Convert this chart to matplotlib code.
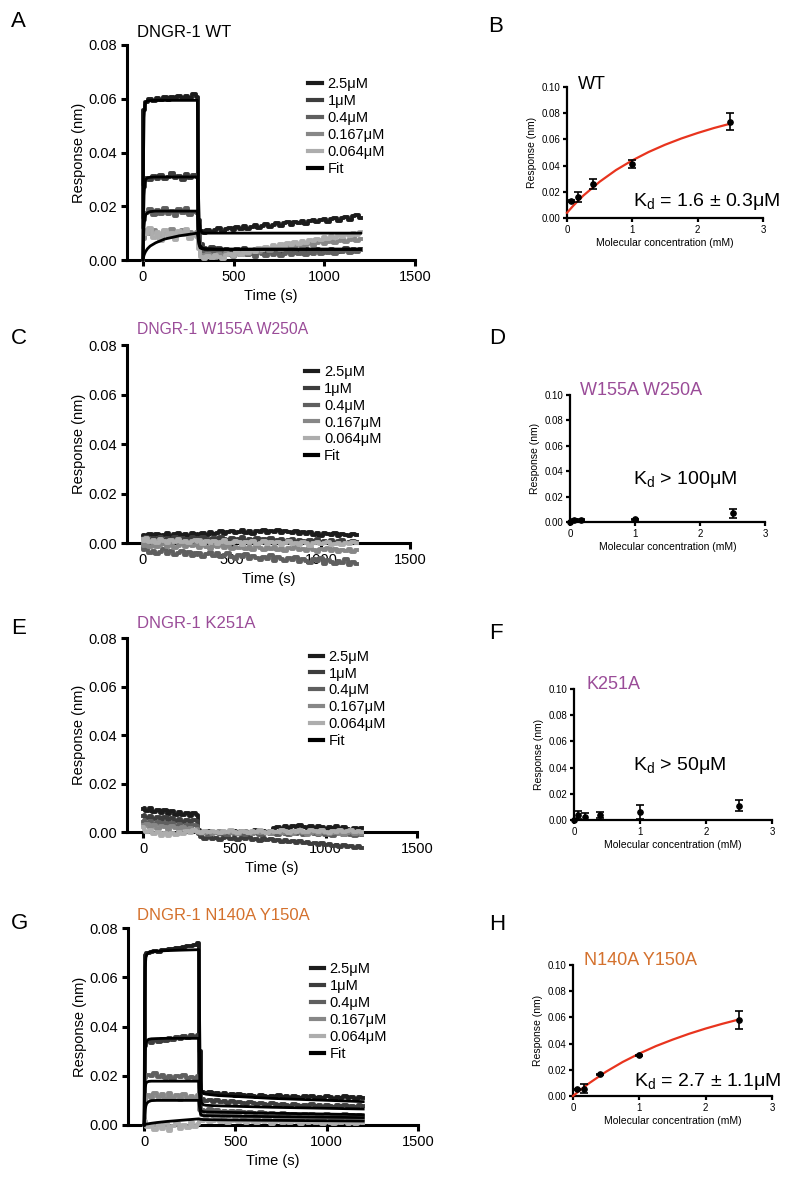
import numpy as np
import matplotlib
matplotlib.use("Agg")
import matplotlib.pyplot as plt
from matplotlib.lines import Line2D

plt.rcParams['font.family'] = ['Liberation Sans', 'DejaVu Sans']
plt.rcParams['mathtext.default'] = 'regular'

# ---------------- data ----------------
# sensorgram time grid (s)
time_s = [0, 5] + list(range(20, 301, 20)) + [305] + list(range(320, 1201, 20))
conc_labels = ['2.5\u03bcM', '1\u03bcM', '0.4\u03bcM', '0.167\u03bcM', '0.064\u03bcM', 'Fit']
trace_colors = ['#1c1c1c', '#3d3d3d', '#5f5f5f', '#878787', '#adadad']

# responses in units of 1e-4 nm
A_25 = [0, 560, 588, 598, 590, 603, 595, 605, 597, 607, 600, 610, 602, 612, 604, 616, 606,
        125, 108, 100, 112, 104, 110, 118, 106, 114, 120, 110, 122, 116, 126, 114, 124, 130, 120, 128, 134,
        124, 132, 138, 128, 136, 140, 130, 142, 136, 146, 134, 144, 150, 140, 148, 154, 142, 152, 158, 146,
        156, 160, 150, 162, 166, 156]
A_1 = [0, 270, 305, 298, 312, 302, 318, 300, 310, 322, 304, 314, 298, 320, 306, 316, 308,
       150, 60, 45, 38, 50, 34, 44, 30, 42, 36, 28, 40, 32, 46, 30, 38, 26, 42, 34, 28,
       40, 30, 36, 24, 38, 32, 44, 28, 36, 30, 42, 26, 34, 40, 30, 36, 28, 42, 34, 30,
       38, 44, 32, 40, 36, 42]
A_04 = [0, 150, 175, 190, 168, 185, 172, 195, 170, 182, 165, 188, 174, 192, 168, 180, 176,
        90, 40, 30, 22, 34, 20, 28, 16, 30, 24, 14, 26, 20, 32, 18, 24, 12, 28, 22, 16,
        30, 20, 26, 14, 24, 30, 18, 26, 22, 34, 20, 28, 24, 32, 22, 30, 26, 36, 24, 32,
        28, 38, 26, 34, 30, 36]
A_0167 = [0, 80, 105, 95, 112, 100, 90, 108, 96, 115, 102, 92, 110, 98, 106, 94, 104,
          60, 20, 12, 24, 16, 8, 22, 14, 26, 18, 10, 28, 20, 32, 22, 30, 40, 28, 36, 44,
          32, 42, 50, 38, 46, 54, 42, 52, 60, 48, 56, 64, 52, 62, 70, 58, 66, 74, 62, 72,
          80, 68, 76, 84, 72, 80]
A_0064 = [0, 110, 95, 118, 82, 105, 70, 112, 88, 100, 76, 108, 92, 115, 80, 98, 86,
          40, 10, 4, 16, 8, 20, 12, 2, 18, 24, 14, 28, 20, 34, 26, 38, 30, 44, 36, 48,
          40, 54, 46, 58, 50, 62, 56, 68, 60, 72, 64, 76, 70, 80, 74, 86, 78, 90, 82, 94,
          86, 98, 90, 100, 94, 104]

C_25 = [28, 32, 26, 35, 30, 38, 28, 34, 40, 30, 36, 42, 32, 38, 30, 40, 34,
        36, 30, 42, 34, 44, 36, 40, 48, 38, 44, 50, 40, 46, 52, 42, 48, 38, 50, 44, 54,
        40, 48, 44, 52, 42, 50, 46, 40, 48, 36, 44, 38, 46, 34, 42, 30, 40, 36, 32, 42,
        28, 38, 34, 30, 36, 32]
C_1 = [20, 15, 24, 12, 22, 18, 26, 14, 20, 10, 24, 16, 22, 12, 18, 26, 14,
       20, 12, 24, 16, 10, 22, 14, 26, 18, 12, 20, 8, 16, 24, 10, 18, 14, 22, 6, 16,
       12, 20, 8, 14, 18, 4, 12, 16, 6, 14, 10, 2, 12, 8, 16, 4, 10, 6, 14, 2,
       8, 12, 0, 6, 10, 4]
C_04 = [-20, -30, -24, -40, -32, -46, -36, -26, -44, -34, -50, -40, -32, -48, -36, -52, -42,
        -48, -40, -56, -44, -36, -52, -42, -58, -48, -40, -56, -64, -50, -58, -46, -66, -54, -62, -70, -56,
        -64, -50, -72, -58, -66, -74, -60, -70, -56, -78, -64, -72, -80, -66, -74, -62, -84, -70, -78, -86,
        -72, -80, -66, -90, -76, -84]
C_0167 = [-5, -12, -2, -15, -8, -18, -10, -4, -16, -8, -20, -12, -6, -18, -10, -14, -8,
          -12, -20, -8, -16, -24, -12, -18, -10, -22, -14, -26, -16, -20, -12, -24, -18, -28, -14, -22, -30,
          -18, -24, -16, -28, -20, -32, -22, -26, -18, -30, -24, -34, -20, -28, -36, -24, -30, -22, -34, -26,
          -38, -28, -32, -24, -36, -30]
C_0064 = [15, 8, 20, 5, 14, 2, 18, 10, 0, 12, 6, 16, 4, 10, -2, 8, 14,
          4, 12, -4, 8, 0, 10, -6, 6, 14, 2, -2, 10, 4, -8, 6, 0, 8, -4, 2, 10,
          -6, 4, -2, 6, -10, 0, 8, -4, 2, -8, 4, -2, -12, 0, 6, -6, -2, 4, -10, -4,
          2, -8, 0, -6, 4, -2]

E_25 = [95, 100, 88, 98, 84, 92, 80, 90, 76, 86, 72, 84, 70, 80, 68, 78, 72,
        10, 0, -4, 4, -6, 2, -2, -8, 0, -4, 4, -2, 6, 0, -4, 2, 8, 0, 4, -2,
        6, 16, 20, 14, 24, 18, 26, 20, 28, 22, 16, 24, 18, 26, 20, 14, 22, 16, 24, 12,
        20, 14, 8, 18, 10, 16]
E_1 = [65, 70, 58, 66, 54, 62, 50, 60, 48, 56, 44, 54, 42, 50, 40, 48, 44,
       -10, -20, -28, -22, -30, -24, -32, -26, -20, -30, -24, -34, -26, -30, -22, -32, -28, -36, -26, -34,
       -30, -38, -32, -40, -34, -42, -36, -44, -38, -46, -40, -48, -44, -52, -46, -54, -48, -58, -52, -60,
       -54, -62, -56, -66, -58, -64]
E_04 = [40, 48, 36, 44, 30, 42, 28, 38, 24, 36, 22, 34, 20, 30, 18, 28, 24,
        0, -8, -4, -12, -6, -2, -10, -4, -14, -6, -10, -2, -8, -12, -4, -10, -6, -14, -8, -2,
        -10, -6, -12, -4, -8, -14, -6, -10, -2, -12, -8, -4, -10, -14, -6, -12, -8, -16, -10, -6,
        -14, -8, -12, -18, -10, -14]
E_0167 = [30, 22, 34, 18, 28, 14, 26, 20, 10, 24, 16, 8, 22, 12, 18, 6, 14,
          -4, 2, -6, 0, -8, -2, 4, -6, 0, -4, 2, -8, -2, 4, -4, -10, 0, -6, 2, -4,
          -8, 0, -2, -6, 2, -4, -10, -2, 0, -6, -12, -4, 0, -8, -2, -6, -10, -4, 0, -8,
          -12, -6, -2, -10, -4, -8]
E_0064 = [20, 10, -2, 8, -10, 0, -16, -6, -18, -4, -12, 2, -8, 6, -4, 10, 2,
          2, -4, 4, -2, 6, 0, -6, 4, -2, 8, 0, -4, 6, 2, -6, 4, -2, 8, 0, -4,
          6, 2, -2, 8, 4, -4, 6, 0, 10, 2, -2, 8, 4, 0, 10, 2, -4, 6, 0, 8,
          -2, 4, 10, 0, 6, 2]

G_25 = [0, 690, 700, 702, 706, 704, 710, 712, 715, 713, 718, 720, 722, 725, 728, 732, 738,
        300, 135, 128, 132, 125, 130, 122, 128, 120, 126, 118, 124, 120, 116, 122, 118, 114, 120, 116, 112,
        118, 114, 120, 112, 116, 110, 118, 114, 108, 116, 112, 118, 110, 114, 108, 116, 112, 106, 114, 110,
        116, 108, 112, 106, 114, 110]
G_1 = [0, 320, 340, 335, 345, 338, 350, 342, 355, 346, 358, 350, 362, 354, 366, 358, 364,
       150, 105, 98, 102, 95, 100, 92, 98, 90, 96, 88, 94, 90, 86, 92, 88, 84, 90, 86, 82,
       88, 84, 80, 86, 82, 78, 84, 80, 76, 82, 78, 84, 76, 80, 74, 82, 78, 72, 80, 76,
       82, 74, 78, 72, 80, 76]
G_04 = [0, 190, 205, 198, 210, 195, 202, 192, 200, 188, 198, 194, 202, 190, 196, 192, 198,
        90, 62, 58, 64, 56, 60, 54, 58, 52, 56, 50, 55, 52, 48, 54, 50, 46, 52, 48, 44,
        50, 46, 42, 48, 44, 40, 46, 42, 38, 44, 40, 46, 38, 42, 36, 44, 40, 34, 42, 38,
        44, 36, 40, 34, 42, 38]
G_0167 = [0, 95, 120, 108, 130, 112, 125, 105, 128, 110, 122, 100, 126, 108, 118, 104, 120,
          60, 42, 38, 44, 36, 40, 34, 42, 36, 40, 32, 38, 34, 30, 38, 34, 30, 36, 32, 28,
          36, 32, 28, 34, 30, 26, 34, 30, 26, 32, 28, 34, 26, 30, 24, 32, 28, 24, 30, 26,
          32, 24, 28, 22, 30, 26]
G_0064 = [0, 15, -10, 5, -20, 0, -15, 10, -25, -5, 8, -18, 2, -12, 12, -8, 5,
          20, 15, 22, 12, 18, 24, 14, 20, 10, 18, 22, 12, 16, 8, 20, 14, 10, 18, 12, 16,
          6, 14, 18, 10, 14, 8, 16, 12, 6, 14, 10, 16, 8, 12, 4, 14, 10, 6, 12, 8,
          14, 4, 10, 6, 12, 8]

# fitted curves (units of 1e-4 nm)
fit_time = [0, 3, 6, 10, 15, 25, 40, 70, 120, 200, 300, 303, 306, 310, 315, 325, 340, 400, 700, 1200]
fit_A_25 = [0, 380, 530, 575, 588, 592, 593, 594, 594, 594, 594, 420, 250, 150, 115, 102, 100, 100, 100, 100]
fit_A_1 = [0, 150, 240, 285, 300, 306, 308, 309, 309, 309, 309, 200, 120, 75, 55, 45, 42, 40, 40, 40]
fit_A_04 = [0, 80, 125, 155, 168, 176, 180, 182, 182, 182, 182, 120, 80, 55, 45, 42, 40, 40, 40, 40]
fit_A_slow = [0, 10, 18, 25, 32, 42, 52, 64, 78, 90, 100, 85, 70, 58, 50, 44, 41, 40, 40, 40]
fit_G_25 = [0, 500, 640, 680, 692, 700, 704, 706, 708, 710, 712, 500, 300, 180, 140, 128, 125, 120, 108, 95]
fit_G_1 = [0, 220, 300, 330, 342, 348, 350, 351, 352, 352, 352, 250, 160, 110, 90, 82, 80, 78, 72, 65]
fit_G_04 = [0, 110, 150, 168, 174, 177, 178, 178, 178, 178, 178, 130, 90, 65, 56, 54, 53, 52, 48, 42]
fit_G_0167 = [0, 40, 62, 78, 88, 95, 99, 100, 100, 100, 100, 75, 55, 44, 40, 38, 38, 37, 34, 30]
fit_G_0064 = [0, 1, 2, 3, 4, 5, 7, 10, 14, 19, 25, 24, 24, 23, 23, 22, 22, 21, 19, 16]

# steady-state binding (right panels)
B_x = [0.064, 0.167, 0.4, 1.0, 2.5]
B_y = [0.013, 0.016, 0.026, 0.041, 0.0735]
B_err = [0.0008, 0.004, 0.004, 0.003, 0.0065]
B_fit_x = [0, 0.1, 0.25, 0.5, 0.75, 1.0, 1.25, 1.5, 1.75, 2.0, 2.25, 2.5]
B_fit_y = [0.004, 0.0096, 0.0171, 0.0277, 0.0366, 0.0440, 0.0504, 0.0559, 0.0607, 0.0649, 0.0687, 0.0720]

D_x = [0.0, 0.064, 0.167, 1.0, 2.5]
D_y = [0.0, 0.0016, 0.0016, 0.0021, 0.0068]
D_err = [0.0, 0.0004, 0.0004, 0.0004, 0.0033]

F_x = [0.0, 0.064, 0.167, 0.4, 1.0, 2.5]
F_y = [0.0, 0.0038, 0.0025, 0.0038, 0.0059, 0.011]
F_err = [0.0, 0.0032, 0.0025, 0.002, 0.0052, 0.0045]

H_x = [0.064, 0.167, 0.4, 1.0, 2.5]
H_y = [0.0051, 0.0056, 0.0166, 0.031, 0.058]
H_err = [0.0005, 0.0032, 0.0005, 0.0005, 0.007]
H_fit_x = [0, 0.1, 0.25, 0.5, 0.75, 1.0, 1.25, 1.5, 1.75, 2.0, 2.25, 2.5]
H_fit_y = [0.0, 0.0042, 0.0100, 0.0186, 0.0260, 0.0324, 0.0381, 0.0430, 0.0475, 0.0515, 0.0551, 0.0584]

purple = '#9a4c98'
orange = '#d4712d'
red = '#e8341e'

# ---------------- figure ----------------
fig = plt.figure(figsize=(8, 11.81), dpi=100)
H = 1181.0


def rect(l, t, r, b):
    return [l / 800.0, 1 - b / H, (r - l) / 800.0, (b - t) / H]


def sensor_panel(box, traces, fits, title, tcolor, leg_y, title_y, title_size=12):
    ax = fig.add_axes(rect(*box))
    for vals, col in zip(traces, trace_colors):
        ax.plot(time_s, np.array(vals) * 1e-4, color=col, lw=2.8, drawstyle='steps-mid',
                clip_on=False, zorder=3)
    for f in fits:
        ax.plot(fit_time, np.array(f) * 1e-4, color='black', lw=2.0, clip_on=False, zorder=4)
    ax.set_xlim(-88, 1500)
    ax.set_ylim(0, 0.08)
    ax.set_xticks([0, 500, 1000, 1500])
    ax.set_yticks([0, 0.02, 0.04, 0.06, 0.08])
    ax.set_yticklabels(['0.00', '0.02', '0.04', '0.06', '0.08'])
    for s in ['top', 'right']:
        ax.spines[s].set_visible(False)
    for s in ['left', 'bottom']:
        ax.spines[s].set_linewidth(2.2)
    ax.tick_params(width=2.2, length=4, labelsize=10.5, pad=3)
    ax.set_xlabel('Time (s)', fontsize=10.5, labelpad=4)
    ax.set_ylabel('Response (nm)', fontsize=10.5, labelpad=2)
    handles = [Line2D([], [], color=c, lw=3) for c in trace_colors] + [Line2D([], [], color='black', lw=3)]
    ax.legend(handles, conc_labels, loc='upper left', bbox_to_anchor=(0.63, leg_y), frameon=False,
              fontsize=10.5, handlelength=0.9, handletextpad=0.4, labelspacing=0.2,
              borderpad=0, borderaxespad=0)
    fig.text(137 / 800.0, 1 - title_y / H, title, fontsize=title_size, color=tcolor,
             va='baseline', ha='left')
    return ax


def binding_panel(box, x, y, err, fx, fy, title, tcolor, title_xy, kd_text, kd_xy):
    ax = fig.add_axes(rect(*box))
    if fx is not None:
        ax.plot(fx, fy, color=red, lw=1.6, zorder=3, clip_on=False)
    ax.errorbar(x, y, yerr=err, fmt='o', color='black', ms=3.8, capsize=3, elinewidth=1.2,
                capthick=1.2, zorder=4, clip_on=False)
    ax.set_xlim(0, 3)
    ax.set_ylim(0, 0.1)
    ax.set_xticks([0, 1, 2, 3])
    ax.set_yticks([0, 0.02, 0.04, 0.06, 0.08, 0.10])
    ax.set_yticklabels(['0.00', '0.02', '0.04', '0.06', '0.08', '0.10'])
    for s in ['top', 'right']:
        ax.spines[s].set_visible(False)
    for s in ['left', 'bottom']:
        ax.spines[s].set_linewidth(1.6)
    ax.tick_params(width=1.6, length=3, labelsize=7, pad=2)
    ax.set_xlabel('Molecular concentration (mM)', fontsize=7.5, labelpad=2)
    ax.set_ylabel('Response (nm)', fontsize=7.5, labelpad=3)
    fig.text(title_xy[0] / 800.0, 1 - title_xy[1] / H, title, fontsize=13, color=tcolor,
             va='baseline', ha='left')
    fig.text(kd_xy[0] / 800.0, 1 - kd_xy[1] / H, kd_text, fontsize=14, color='black',
             va='baseline', ha='left')
    return ax


sensor_panel((127, 45, 415, 260), [A_25, A_1, A_04, A_0167, A_0064],
             [fit_A_25, fit_A_1, fit_A_04, fit_A_slow], 'DNGR-1 WT', 'black', 0.85, 37)
sensor_panel((127, 345, 410, 543), [C_25, C_1, C_04, C_0167, C_0064], [],
             'DNGR-1 W155A W250A', purple, 0.90, 334, title_size=11.3)
sensor_panel((127, 638, 417, 832), [E_25, E_1, E_04, E_0167, E_0064], [],
             'DNGR-1 K251A', purple, 0.94, 628)
sensor_panel((128, 928, 418, 1125), [G_25, G_1, G_04, G_0167, G_0064],
             [fit_G_25, fit_G_1, fit_G_04, fit_G_0167, fit_G_0064],
             'DNGR-1 N140A Y150A', orange, 0.825, 920)

binding_panel((567, 87, 763, 218), B_x, B_y, B_err, B_fit_x, B_fit_y, 'WT', 'black', (578, 89),
              '$K_d$ = 1.6 \u00b1 0.3\u03bcM', (633, 206))
binding_panel((570, 395, 765, 522), D_x, D_y, D_err, None, None, 'W155A W250A', purple, (580, 395),
              '$K_d$ > 100\u03bcM', (633, 484))
binding_panel((574, 689, 772, 820), F_x, F_y, F_err, None, None, 'K251A', purple, (587, 689),
              '$K_d$ > 50\u03bcM', (633, 770))
binding_panel((573, 965, 772, 1096), H_x, H_y, H_err, H_fit_x, H_fit_y, 'N140A Y150A', orange, (584, 965),
              '$K_d$ = 2.7 \u00b1 1.1\u03bcM', (634, 1086))

for letter, (lx, ly) in zip('ABCDEFGH', [(11, 27), (488, 32), (11, 344), (489, 344),
                                         (11, 634), (489, 639), (11, 929), (489, 930)]):
    fig.text(lx / 800.0, 1 - ly / H, letter, fontsize=16, va='baseline', ha='left')

fig.savefig('out.png', dpi=100)
